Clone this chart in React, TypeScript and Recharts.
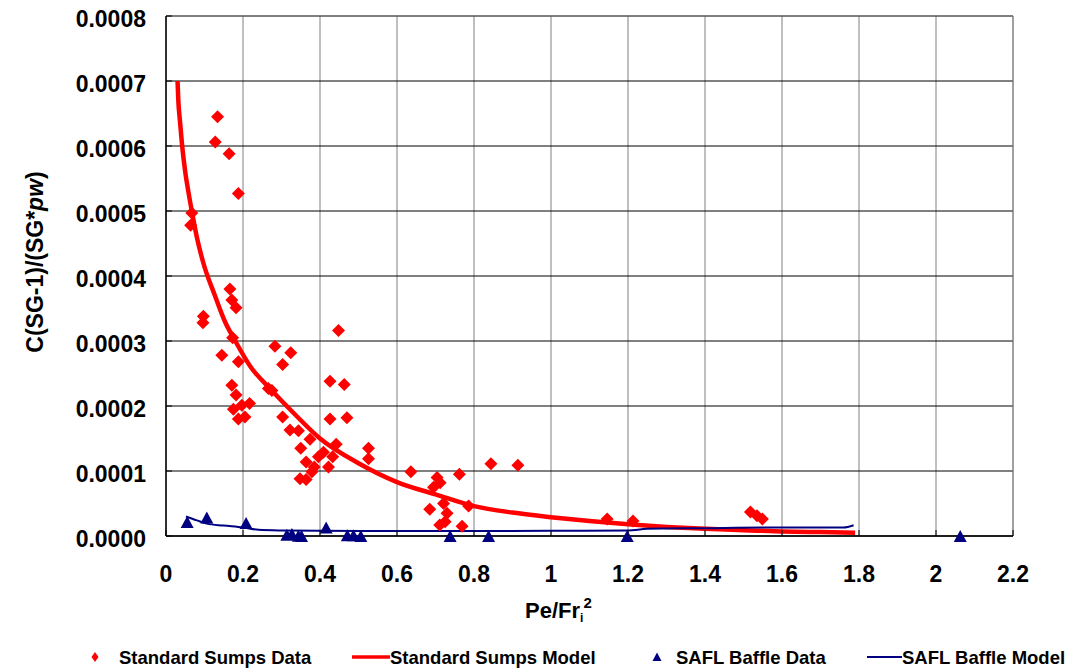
import React from 'react';
import {
  CartesianGrid,
  ReferenceLine,
  Scatter,
  ScatterChart,
  XAxis,
  YAxis,
} from 'recharts';

// values
const sumpsData = [
  { x: 0.134, y: 0.000645 },
  { x: 0.128, y: 0.000606 },
  { x: 0.164, y: 0.000588 },
  { x: 0.188, y: 0.000527 },
  { x: 0.067, y: 0.000497 },
  { x: 0.064, y: 0.000478 },
  { x: 0.166, y: 0.00038 },
  { x: 0.171, y: 0.000363 },
  { x: 0.182, y: 0.000351 },
  { x: 0.097, y: 0.000338 },
  { x: 0.096, y: 0.000328 },
  { x: 0.173, y: 0.000305 },
  { x: 0.145, y: 0.000278 },
  { x: 0.188, y: 0.000268 },
  { x: 0.283, y: 0.000292 },
  { x: 0.324, y: 0.000282 },
  { x: 0.303, y: 0.000264 },
  { x: 0.448, y: 0.000316 },
  { x: 0.171, y: 0.000232 },
  { x: 0.182, y: 0.000217 },
  { x: 0.175, y: 0.000195 },
  { x: 0.197, y: 0.000201 },
  { x: 0.217, y: 0.000204 },
  { x: 0.188, y: 0.00018 },
  { x: 0.205, y: 0.000183 },
  { x: 0.266, y: 0.000227 },
  { x: 0.275, y: 0.000224 },
  { x: 0.426, y: 0.000238 },
  { x: 0.463, y: 0.000233 },
  { x: 0.303, y: 0.000183 },
  { x: 0.322, y: 0.000163 },
  { x: 0.344, y: 0.000162 },
  { x: 0.374, y: 0.000149 },
  { x: 0.426, y: 0.00018 },
  { x: 0.47, y: 0.000182 },
  { x: 0.35, y: 0.000135 },
  { x: 0.442, y: 0.000141 },
  { x: 0.409, y: 0.000129 },
  { x: 0.396, y: 0.000122 },
  { x: 0.364, y: 0.000114 },
  { x: 0.385, y: 0.000106 },
  { x: 0.348, y: 0.000088 },
  { x: 0.364, y: 0.000087 },
  { x: 0.379, y: 0.000099 },
  { x: 0.422, y: 0.000106 },
  { x: 0.433, y: 0.000122 },
  { x: 0.526, y: 0.000135 },
  { x: 0.526, y: 0.000119 },
  { x: 0.636, y: 0.000099 },
  { x: 0.844, y: 0.000111 },
  { x: 0.914, y: 0.000109 },
  { x: 0.704, y: 0.00009 },
  { x: 0.695, y: 0.000075 },
  { x: 0.712, y: 0.000082 },
  { x: 0.762, y: 0.000095 },
  { x: 0.685, y: 0.000041 },
  { x: 0.721, y: 0.00005 },
  { x: 0.73, y: 0.000035 },
  { x: 0.711, y: 0.000017 },
  { x: 0.725, y: 0.000022 },
  { x: 0.769, y: 0.000015 },
  { x: 0.786, y: 0.000046 },
  { x: 1.146, y: 0.000026 },
  { x: 1.213, y: 0.000023 },
  { x: 1.518, y: 0.000037 },
  { x: 1.535, y: 0.000031 },
  { x: 1.549, y: 0.000026 },
];

const sumpsModel = [
  { x: 0.03, y: 0.0007 },
  { x: 0.032, y: 0.00067 },
  { x: 0.036, y: 0.00064 },
  { x: 0.042, y: 0.0006 },
  { x: 0.05, y: 0.00056 },
  { x: 0.058, y: 0.00053 },
  { x: 0.067, y: 0.0005 },
  { x: 0.08, y: 0.00046 },
  { x: 0.097, y: 0.00042 },
  { x: 0.127, y: 0.00037 },
  { x: 0.153, y: 0.00033 },
  { x: 0.18, y: 0.0003 },
  { x: 0.22, y: 0.00026 },
  { x: 0.27, y: 0.000227 },
  { x: 0.33, y: 0.00019 },
  { x: 0.4, y: 0.00015 },
  { x: 0.5, y: 0.000112 },
  { x: 0.6, y: 0.000083 },
  { x: 0.7, y: 0.000064 },
  { x: 0.8, y: 0.000046 },
  { x: 0.9, y: 0.000036 },
  { x: 1.0, y: 0.000029 },
  { x: 1.1, y: 0.000023 },
  { x: 1.2, y: 0.000018 },
  { x: 1.3, y: 0.000014 },
  { x: 1.4, y: 0.000011 },
  { x: 1.5, y: 0.000009 },
  { x: 1.6, y: 0.000007 },
  { x: 1.7, y: 0.000006 },
  { x: 1.79, y: 0.000005 },
];

const baffleData = [
  { x: 0.055, y: 0.0000216 },
  { x: 0.106, y: 0.0000283 },
  { x: 0.208, y: 0.00002 },
  { x: 0.314, y: 0.000002 },
  { x: 0.327, y: 0.000003 },
  { x: 0.344, y: 0.0000005 },
  { x: 0.352, y: 0 },
  { x: 0.416, y: 0.000013 },
  { x: 0.471, y: 0.000001 },
  { x: 0.487, y: 0.000001 },
  { x: 0.506, y: 0 },
  { x: 0.738, y: 0 },
  { x: 0.838, y: 0 },
  { x: 1.198, y: 0 },
  { x: 2.063, y: 0 },
];

const baffleModel = [
  { x: 0.052, y: 0.00003 },
  { x: 0.08, y: 0.000024 },
  { x: 0.106, y: 0.000019 },
  { x: 0.15, y: 0.000016 },
  { x: 0.2, y: 0.000013 },
  { x: 0.24, y: 0.0000095 },
  { x: 0.3, y: 0.0000085 },
  { x: 0.4, y: 0.000008 },
  { x: 0.6, y: 0.0000078 },
  { x: 0.8, y: 0.0000078 },
  { x: 1.0, y: 0.000008 },
  { x: 1.2, y: 0.0000085 },
  { x: 1.25, y: 0.000011 },
  { x: 1.4, y: 0.000012 },
  { x: 1.55, y: 0.000013 },
  { x: 1.76, y: 0.000013 },
  { x: 1.786, y: 0.0000165 },
];

const xTicks = [0, 0.2, 0.4, 0.6, 0.8, 1, 1.2, 1.4, 1.6, 1.8, 2, 2.2];
const yTicks = [0, 0.0001, 0.0002, 0.0003, 0.0004, 0.0005, 0.0006, 0.0007, 0.0008];

const legendItems = [
  { name: 'Standard Sumps Data', kind: 'diamond' },
  { name: 'Standard Sumps Model', kind: 'redLine' },
  { name: 'SAFL Baffle Data', kind: 'triangle' },
  { name: 'SAFL Baffle Model', kind: 'blueLine' },
];

const FONT = '"Liberation Sans", Arial, Helvetica, sans-serif';
const RED = '#ff0000';
const NAVY = '#000080';

function XTick({ x, y, payload }: any) {
  const v = payload.value as number;
  return (
    <g>
      <line x1={x} y1={y} x2={x} y2={y - 6} stroke="#000" />
      <text x={x} y={y + 46} textAnchor="middle" fontFamily={FONT} fontWeight="bold" fontSize={23} fill="#000">
        {String(Number(v.toFixed(1)))}
      </text>
    </g>
  );
}

function YTick({ x, y, payload }: any) {
  const v = payload.value as number;
  return (
    <g>
      <line x1={x} y1={y} x2={x + 6} y2={y} stroke="#000" />
      <text x={x - 20} y={y + 11} textAnchor="end" fontFamily={FONT} fontWeight="bold" fontSize={23} fill="#000">
        {v.toFixed(4)}
      </text>
    </g>
  );
}

const diamond = (p: any) => {
  const { cx, cy } = p;
  const r = 6.5;
  return <polygon points={`${cx},${cy - r} ${cx + r},${cy} ${cx},${cy + r} ${cx - r},${cy}`} fill={RED} />;
};

const triangle = (p: any) => {
  const { cx, cy } = p;
  return <polygon points={`${cx},${cy - 6} ${cx + 6.5},${cy + 6} ${cx - 6.5},${cy + 6}`} fill={NAVY} />;
};

const noDot = () => <g />;

const legendX = [
  { icon: 87, text: 111 },
  { icon: 363, text: 382 },
  { icon: 649, text: 668 },
  { icon: 876, text: 894 },
];

function LegendIcon({ kind, cx }: { kind: string; cx: number }) {
  const cy = 19;
  if (kind === 'diamond')
    return <polygon points={`${cx},${cy - 5} ${cx + 3.5},${cy} ${cx},${cy + 5} ${cx - 3.5},${cy}`} fill={RED} />;
  if (kind === 'triangle')
    return <polygon points={`${cx},${cy - 4.5} ${cx + 4.5},${cy + 4} ${cx - 4.5},${cy + 4}`} fill={NAVY} />;
  if (kind === 'redLine') return <line x1={cx - 19} y1={cy} x2={cx + 19} y2={cy} stroke={RED} strokeWidth={3.5} />;
  return <line x1={cx - 17} y1={cy} x2={cx + 18} y2={cy} stroke={NAVY} strokeWidth={2} />;
}

export default function App() {
  return (
    <div style={{ position: 'relative', width: 1057, height: 663, fontFamily: FONT }}>
      <ScatterChart width={1057} height={655} margin={{ top: 8, right: 52, left: 8, bottom: 67 }}>
        <CartesianGrid horizontal={false} stroke="#808080" />
        <CartesianGrid vertical={false} stroke="#000" />
        <ReferenceLine y={0.0008} stroke="#808080" />
        <ReferenceLine x={2.2} stroke="#808080" />
        <XAxis
          type="number"
          dataKey="x"
          domain={[0, 2.2]}
          ticks={xTicks}
          interval={0}
          height={60}
          tickSize={0}
          tickMargin={0}
          tickLine={false}
          axisLine={{ stroke: '#000', strokeWidth: 1.5 }}
          tick={<XTick />}
        />
        <YAxis
          type="number"
          dataKey="y"
          domain={[0, 0.0008]}
          ticks={yTicks}
          interval={0}
          width={150}
          tickSize={0}
          tickMargin={0}
          tickLine={false}
          axisLine={{ stroke: '#000', strokeWidth: 1.5 }}
          tick={<YTick />}
        />
        <Scatter
          name="Standard Sumps Model"
          data={sumpsModel}
          fill={RED}
          line={{ stroke: RED, strokeWidth: 4.5 }}
          lineJointType="monotoneX"
          shape={noDot}
          isAnimationActive={false}
        />
        <Scatter
          name="SAFL Baffle Model"
          data={baffleModel}
          fill={NAVY}
          line={{ stroke: NAVY, strokeWidth: 2 }}
          lineJointType="monotoneX"
          shape={noDot}
          isAnimationActive={false}
        />
        <Scatter name="Standard Sumps Data" data={sumpsData} fill={RED} shape={diamond} isAnimationActive={false} />
        <Scatter name="SAFL Baffle Data" data={baffleData} fill={NAVY} shape={triangle} isAnimationActive={false} />
      </ScatterChart>

      {/* axis titles */}
      <svg width={1057} height={655} style={{ position: 'absolute', left: 0, top: 0, pointerEvents: 'none' }}>
        <text
          transform="translate(35, 254) rotate(-90)"
          textAnchor="middle"
          fontFamily={FONT}
          fontWeight="bold"
          fontSize={23}
          fill="#000"
        >
          C(SG-1)/(SG*<tspan fontStyle="italic">pw</tspan>)
        </text>
        <text x={517} y={610} fontFamily={FONT} fontWeight="bold" fontSize={22} fill="#000">
          Pe/Fr
          <tspan fontSize={12} dy={4}>i</tspan>
          <tspan fontSize={15} dy={-14}>2</tspan>
        </text>
      </svg>

      {/* legend */}
      <svg width={1057} height={36} style={{ position: 'absolute', left: 0, top: 630 }}>
        {legendItems.map((it, i) => (
          <g key={it.name}>
            <LegendIcon kind={it.kind} cx={legendX[i].icon} />
            <text x={legendX[i].text} y={26} fontFamily={FONT} fontWeight="bold" fontSize={18.5} fill="#000">
              {it.name}
            </text>
          </g>
        ))}
      </svg>
    </div>
  );
}
